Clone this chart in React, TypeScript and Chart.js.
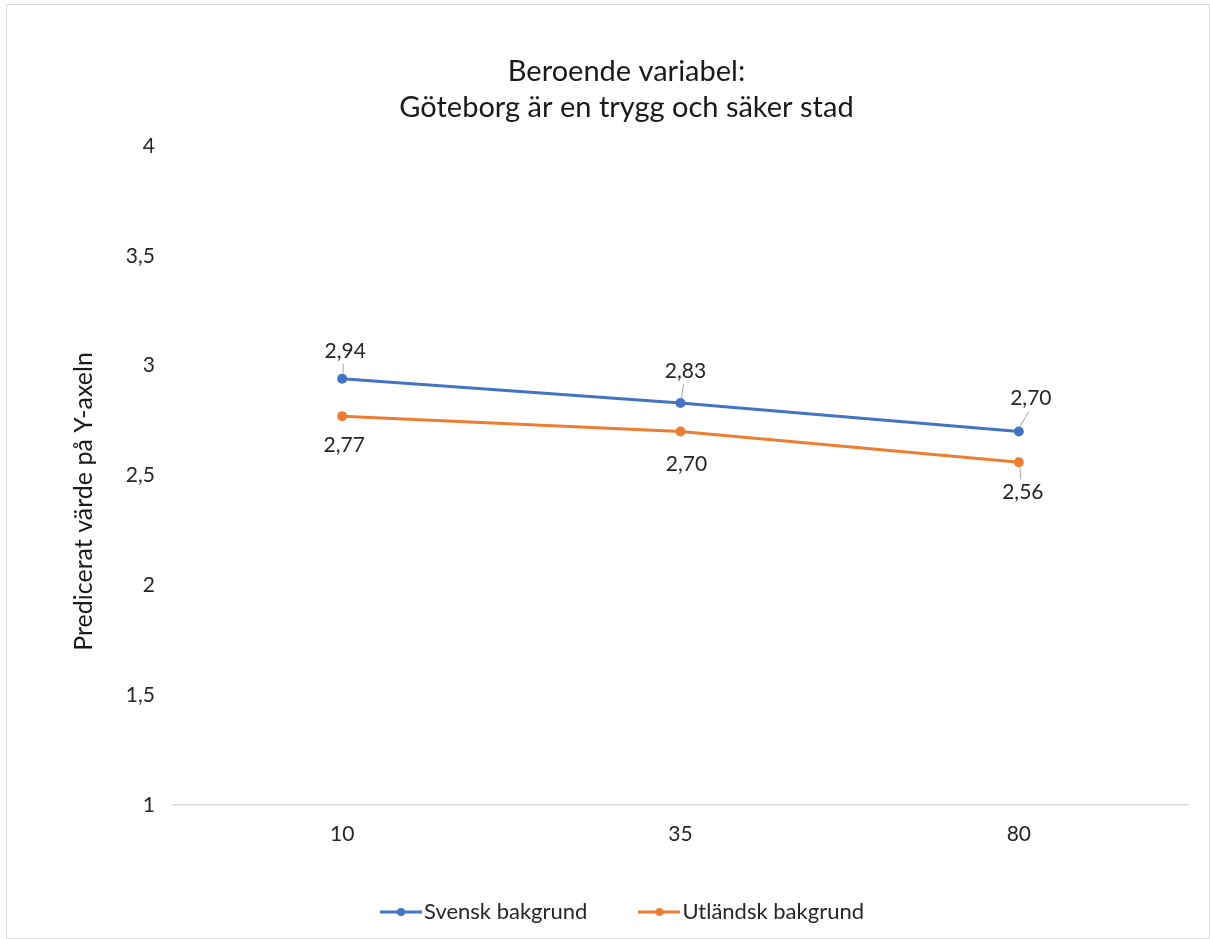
import React, { useEffect, useRef } from "react";
import { Chart, registerables } from "chart.js";

Chart.register(...registerables);

const categories = ["10", "35", "80"];
const svensk = [2.94, 2.83, 2.7];
const utlandsk = [2.77, 2.7, 2.56];
const seriesNames = ["Svensk bakgrund", "Utländsk bakgrund"];
const titleLines = ["Beroende variabel:", "Göteborg är en trygg och säker stad"];
const yTitle = "Predicerat värde på Y-axeln";
const yMin = 1;
const yMax = 4;
const yStep = 0.5;

const BLUE = "#4472C4";
const ORANGE = "#ED7D31";
const FONT = "Lato, 'Open Sans', sans-serif";

// label placement relative to each point (style only)
const labelOffsets = [
  [
    { dx: 3, dy: -28, leader: true },
    { dx: 5, dy: -32, leader: true },
    { dx: 12, dy: -33, leader: true },
  ],
  [
    { dx: 2, dy: 29, leader: false },
    { dx: 6, dy: 33, leader: false },
    { dx: 4, dy: 30, leader: true },
  ],
];

const fmt = (v: number) => v.toFixed(2).replace(".", ",");

function legendIcon(color: string): HTMLCanvasElement {
  const c = document.createElement("canvas");
  c.width = 42;
  c.height = 12;
  const ctx = c.getContext("2d")!;
  ctx.strokeStyle = color;
  ctx.lineWidth = 3;
  ctx.beginPath();
  ctx.moveTo(0, 6);
  ctx.lineTo(42, 6);
  ctx.stroke();
  ctx.fillStyle = color;
  ctx.beginPath();
  ctx.arc(21, 6, 4, 0, Math.PI * 2);
  ctx.fill();
  return c;
}

const dataLabelPlugin = {
  id: "dataLabels",
  afterDatasetsDraw(chart: any) {
    const ctx = chart.ctx;
    ctx.save();
    chart.data.datasets.forEach((ds: any, di: number) => {
      const meta = chart.getDatasetMeta(di);
      meta.data.forEach((pt: any, i: number) => {
        const off = labelOffsets[di][i];
        const x = pt.x + off.dx;
        const y = pt.y + off.dy;
        if (off.leader) {
          const sign = off.dy < 0 ? -1 : 1;
          const sx = pt.x + 1;
          const sy = pt.y + sign * 5;
          const ex = x - 2;
          const ey = y - sign * 13;
          if ((ey - sy) * sign > 2) {
            ctx.strokeStyle = "#A6A6A6";
            ctx.lineWidth = 1;
            ctx.beginPath();
            ctx.moveTo(sx, sy);
            ctx.lineTo(ex, ey);
            ctx.stroke();
          }
        }
        ctx.fillStyle = "#262626";
        ctx.font = `21px ${FONT}`;
        ctx.textAlign = "center";
        ctx.textBaseline = "middle";
        ctx.fillText(fmt(ds.data[i]), x, y);
      });
    });
    ctx.restore();
  },
};

// y-axis title, placed like the original (slightly below plot-area middle)
const yTitlePlugin = {
  id: "yTitleCustom",
  afterDraw(chart: any) {
    const ctx = chart.ctx;
    const area = chart.chartArea;
    ctx.save();
    ctx.translate(84, (area.top + area.bottom) / 2 + 26);
    ctx.rotate(-Math.PI / 2);
    ctx.fillStyle = "#1a1a1a";
    ctx.font = `25px ${FONT}`;
    ctx.textAlign = "center";
    ctx.textBaseline = "middle";
    ctx.fillText(yTitle, 0, 0);
    ctx.restore();
  },
};

export default function App() {
  const ref = useRef<HTMLCanvasElement>(null);

  useEffect(() => {
    if (!ref.current) return;
    const chart = new Chart(ref.current, {
      type: "line",
      data: {
        labels: categories,
        datasets: [
          {
            label: seriesNames[0],
            data: svensk,
            borderColor: BLUE,
            backgroundColor: BLUE,
            borderWidth: 3,
            pointRadius: 5,
            pointHoverRadius: 5,
            pointBorderWidth: 0,
            tension: 0,
          },
          {
            label: seriesNames[1],
            data: utlandsk,
            borderColor: ORANGE,
            backgroundColor: ORANGE,
            borderWidth: 3,
            pointRadius: 5,
            pointHoverRadius: 5,
            pointBorderWidth: 0,
            tension: 0,
          },
        ],
      },
      options: {
        animation: false,
        responsive: true,
        maintainAspectRatio: false,
        layout: { padding: { left: 65, right: 22, top: 0, bottom: 6 } },
        plugins: {
          title: {
            display: true,
            text: titleLines,
            color: "#1a1a1a",
            font: { family: FONT, size: 29, weight: "normal", lineHeight: 1.24 },
            padding: { top: 54, bottom: 20 },
          },
          legend: {
            position: "bottom",
            labels: {
              usePointStyle: true,
              pointStyleWidth: 24,
              padding: 60,
              color: "#262626",
              font: { family: FONT, size: 22 },
              generateLabels: (ch: any) => {
                const items = Chart.defaults.plugins.legend.labels.generateLabels(ch);
                return items.map((it: any, idx: number) => ({
                  ...it,
                  pointStyle: legendIcon(idx === 0 ? BLUE : ORANGE),
                }));
              },
            },
          },
          tooltip: { enabled: false },
        },
        scales: {
          x: {
            offset: true,
            grid: { display: false },
            border: { display: true, color: "#D9D9D9", width: 1.5 },
            ticks: { color: "#262626", font: { family: FONT, size: 21 }, padding: 9 },
            afterFit: (s: any) => {
              s.height = 36;
            },
          },
          y: {
            min: yMin,
            max: yMax,
            grid: { display: false },
            border: { display: false },
            ticks: {
              stepSize: yStep,
              color: "#262626",
              font: { family: FONT, size: 21 },
              padding: 10,
              callback: (v: any) => String(v).replace(".", ","),
            },
            title: { display: false },
            afterFit: (s: any) => {
              s.width = 108;
            },
          },
        },
      },
      plugins: [dataLabelPlugin, yTitlePlugin],
    });
    return () => chart.destroy();
  }, []);

  return (
    <div style={{ position: "fixed", left: 0, top: 0, width: 1210, height: 939, background: "#fff" }}>
      <div
        style={{
          position: "absolute",
          left: 6,
          top: 4,
          width: 1204,
          height: 935,
          border: "1px solid #D9D9D9",
          boxSizing: "border-box",
        }}
      />
      <div style={{ position: "absolute", left: 0, top: 0, width: 1210, height: 939 }}>
        <canvas ref={ref} />
      </div>
    </div>
  );
}
